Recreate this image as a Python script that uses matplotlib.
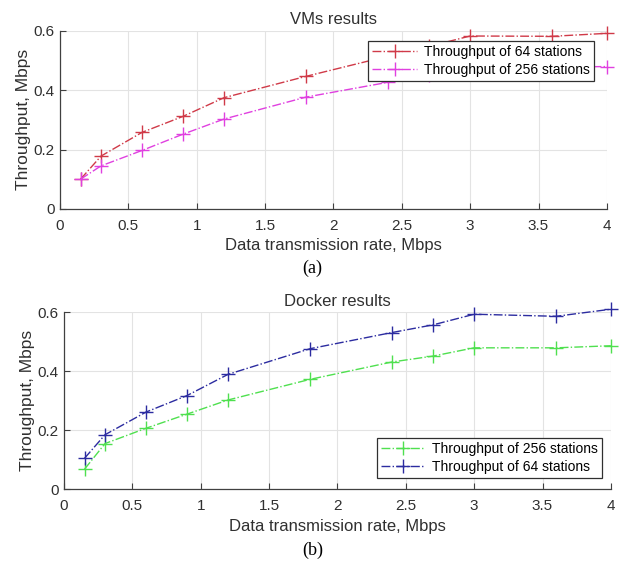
import matplotlib
matplotlib.use('Agg')
import matplotlib.pyplot as plt
from matplotlib.ticker import FormatStrFormatter

plt.rcParams['font.family'] = ['Liberation Sans', 'DejaVu Sans']

rate = [0.15, 0.3, 0.6, 0.9, 1.2, 1.8, 2.4, 2.7, 3.0, 3.6, 4.0]

# VMs results
vm_64 = [0.100, 0.178, 0.258, 0.312, 0.375, 0.447, 0.515, 0.548, 0.583, 0.582, 0.592]
vm_256 = [0.100, 0.145, 0.197, 0.252, 0.303, 0.377, 0.427, 0.452, 0.475, 0.478, 0.480]

# Docker results
dk_256 = [0.068, 0.155, 0.207, 0.255, 0.303, 0.373, 0.432, 0.452, 0.480, 0.480, 0.487]
dk_64 = [0.105, 0.185, 0.262, 0.318, 0.390, 0.477, 0.532, 0.558, 0.594, 0.587, 0.611]

xticks = [0, 0.5, 1, 1.5, 2, 2.5, 3, 3.5, 4]
yticks = [0, 0.2, 0.4, 0.6]


def style_axes(ax, title):
    ax.set_xlim(0, 4)
    ax.set_ylim(0, 0.6)
    ax.set_xticks(xticks)
    ax.set_yticks(yticks)
    ax.xaxis.set_major_formatter(FormatStrFormatter('%g'))
    ax.yaxis.set_major_formatter(FormatStrFormatter('%g'))
    ax.grid(True, color='#e3e3e3', lw=0.8)
    ax.set_axisbelow(True)
    for s in ['top', 'right']:
        ax.spines[s].set_visible(False)
    for s in ['left', 'bottom']:
        ax.spines[s].set_color('#404040')
        ax.spines[s].set_linewidth(0.9)
    ax.tick_params(direction='in', length=4, colors='#404040', labelsize=11,
                   labelcolor='#303030')
    ax.tick_params(axis='x', pad=7)
    ax.tick_params(axis='y', pad=4)
    ax.set_title(title, fontsize=12, color='#303030', pad=5)
    ax.set_xlabel('Data transmission rate, Mbps', fontsize=12, color='#303030',
                  labelpad=4)
    ax.set_ylabel('Throughput, Mbps', fontsize=12.5, color='#303030', labelpad=2)


fig = plt.figure(figsize=(6.25, 5.63), dpi=100)

ax1 = fig.add_axes([0.096, 0.629, 0.875, 0.316])
ax1.plot(rate, vm_64, '-.+', color='#d03a48', lw=1.0, ms=9.5, mew=1.0,
         label='Throughput of 64 stations', clip_on=False)
ax1.plot(rate, vm_256, '-.+', color='#e040e0', lw=1.0, ms=9.5, mew=1.0,
         label='Throughput of 256 stations', clip_on=False)
style_axes(ax1, 'VMs results')
leg = ax1.legend(loc='upper right', bbox_to_anchor=(0.976, 0.944), fontsize=10,
                 fancybox=False, edgecolor='#303030', framealpha=1,
                 borderaxespad=0, handlelength=3.2, borderpad=0.3,
                 labelspacing=0.3, handletextpad=0.5)
leg.get_frame().set_linewidth(0.9)

ax2 = fig.add_axes([0.1024, 0.131, 0.875, 0.314])
ax2.plot(rate, dk_256, '-.+', color='#4fe04f', lw=1.0, ms=9.5, mew=1.0,
         label='Throughput of 256 stations', clip_on=False)
ax2.plot(rate, dk_64, '-.+', color='#2c2ca0', lw=1.0, ms=9.5, mew=1.0,
         label='Throughput of 64 stations', clip_on=False)
style_axes(ax2, 'Docker results')
leg = ax2.legend(loc='lower right', bbox_to_anchor=(0.984, 0.062), fontsize=10,
                 fancybox=False, edgecolor='#303030', framealpha=1,
                 borderaxespad=0, handlelength=3.2, borderpad=0.3,
                 labelspacing=0.3, handletextpad=0.5)
leg.get_frame().set_linewidth(0.9)

fig.text(0.5, 1 - 268 / 563, '(a)', ha='center', va='center', fontsize=13,
         family=['Liberation Serif', 'DejaVu Serif'])
fig.text(0.5, 1 - 550 / 563, '(b)', ha='center', va='center', fontsize=13,
         family=['Liberation Serif', 'DejaVu Serif'])

fig.savefig('out.png', dpi=100)
